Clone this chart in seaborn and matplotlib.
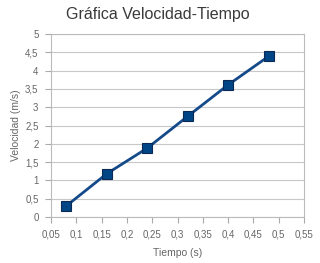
import matplotlib
matplotlib.use("Agg")
import matplotlib.pyplot as plt
import seaborn as sns
import pandas as pd
from matplotlib.ticker import FuncFormatter, MultipleLocator

tiempo = [0.08, 0.16, 0.24, 0.32, 0.40, 0.48]
velocidad = [0.30, 1.18, 1.88, 2.75, 3.61, 4.39]
title = "Gráfica Velocidad-Tiempo"
xlabel = "Tiempo (s)"
ylabel = "Velocidad (m/s)"

df = pd.DataFrame({"t": tiempo, "v": velocidad})

sns.set_style("white")
plt.rcParams['font.family'] = ['Liberation Sans', 'DejaVu Sans']

fig = plt.figure(figsize=(3.2, 2.63), dpi=100)
ax = fig.add_axes([51/320, 1-217/263, (304-51)/320, (217-34)/263])

sns.lineplot(data=df, x="t", y="v", ax=ax, color="#154a8a", linewidth=2,
             marker="s", markersize=6.5, markerfacecolor="#004586",
             markeredgecolor="#0a2a55", markeredgewidth=0.8)

ax.set_xlim(0.05, 0.55)
ax.set_ylim(0, 5)
ax.xaxis.set_major_locator(MultipleLocator(0.05))
ax.yaxis.set_major_locator(MultipleLocator(0.5))

def fmt(v, pos):
    s = f"{v:.2f}".rstrip("0").rstrip(".")
    return s.replace(".", ",")
ax.xaxis.set_major_formatter(FuncFormatter(fmt))
ax.yaxis.set_major_formatter(FuncFormatter(fmt))

ax.grid(axis="y", color="#c8c8c8", linewidth=0.8)
ax.grid(axis="x", visible=False)
ax.set_axisbelow(True)
for s in ax.spines.values():
    s.set_color("#bbbbbb")
    s.set_linewidth(0.8)
ax.tick_params(axis="both", which="major", length=4, width=0.8, color="#aaaaaa",
               labelsize=7, labelcolor="#666666", direction="out",
               bottom=True, left=True)
ax.tick_params(axis="x", pad=5)
ax.tick_params(axis="y", pad=5)

ax.set_xlabel(xlabel, fontsize=7.5, color="#666666", labelpad=6)
ax.set_ylabel(ylabel, fontsize=7.5, color="#666666", labelpad=3)
fig.text(158/320, 1-15/263, title, ha="center", va="center", fontsize=11.5, color="#3a3a3a")

fig.savefig("out.png", dpi=100)
